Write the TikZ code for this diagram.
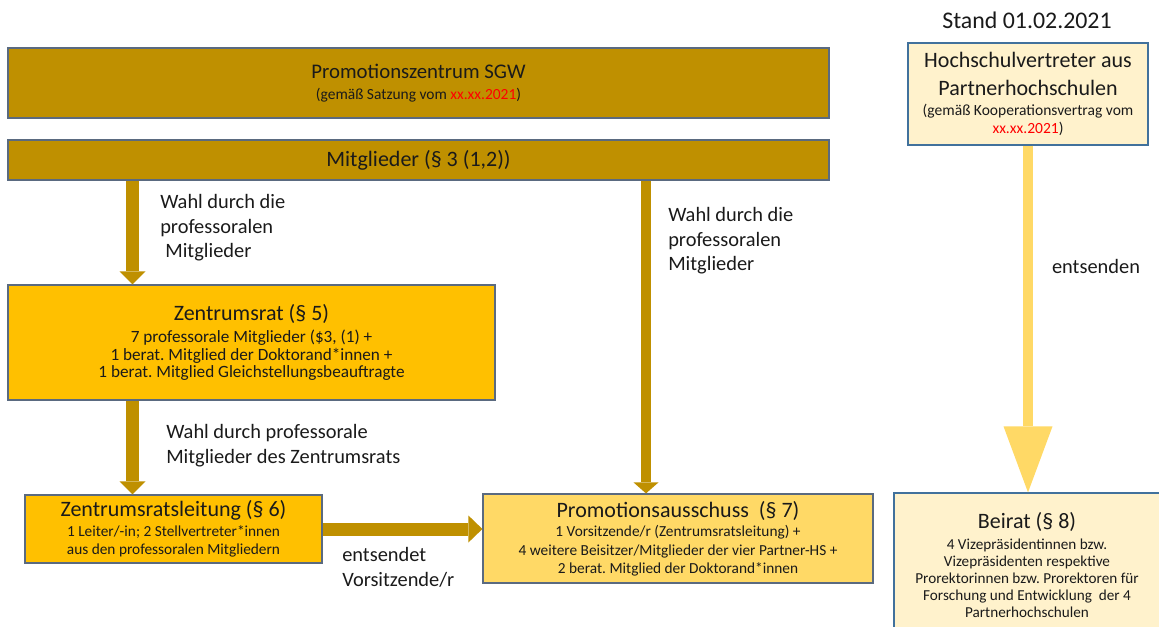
\documentclass[tikz,border=0pt]{standalone}
\usepackage{fontspec}
\setmainfont{Carlito}
\usetikzlibrary{arrows.meta,positioning,calc}
\definecolor{GoldDark}{HTML}{BF9000}
\definecolor{GoldMid}{HTML}{FFC000}
\definecolor{GoldLight}{HTML}{FFD966}
\definecolor{GoldPale}{HTML}{FFF2CC}
\definecolor{BoxLine}{HTML}{5A6A80}
\definecolor{BoxBlue}{HTML}{41719C}
\definecolor{Ink}{HTML}{1A1A1A}
\newcommand{\headfnt}{\fontsize{16.5}{20.5}\selectfont}
\newcommand{\lblfnt}{\fontsize{15.3}{18.4}\selectfont}
\newcommand{\redtxt}[1]{\textcolor{red}{#1}}
\frenchspacing

\begin{document}
\begin{tikzpicture}[
  x=0.75pt, y=-0.75pt,
  every node/.style={text=Ink, inner sep=0pt},
  bx/.style={rectangle, draw=BoxLine, line width=0.9pt, align=center},
  bxDark/.style={bx, fill=GoldDark},
  bxMid/.style={bx, fill=GoldMid},
  bxLight/.style={bx, fill=GoldLight},
  bxPale/.style={bx, draw=BoxBlue, fill=GoldPale},
  lbl/.style={anchor=north west, align=left, font=\lblfnt},
  arrA/.style={draw=GoldDark, line width=9.75pt,
               -{Triangle[length=9.75pt, width=19.5pt, line width=0pt]}},
  arrB/.style={draw=GoldDark, line width=7.5pt,
               -{Triangle[length=8.25pt, width=18.75pt, line width=0pt]}},
  arrH/.style={draw=GoldDark, line width=9.75pt,
               -{Triangle[length=10.5pt, width=20.25pt, line width=0pt]}},
  arrP/.style={draw=GoldLight, line width=7.5pt,
               -{Triangle[length=49.5pt, width=36.75pt, line width=0pt]}},
]
\clip (0,0) rectangle (1159,627);
\node[bxDark, minimum width=615.75pt, minimum height=52.5pt,
      font=\fontsize{11.6}{15.9}\selectfont] (pz) at (418.5, 83)
  {\fontsize{15.6}{19}\selectfont Promotionszentrum SGW\\
   (gemäß Satzung vom \redtxt{xx.xx.2021})};
\node[bxDark, minimum width=615.75pt, minimum height=30pt] (mg) at (418.5,160)
  {\headfnt Mitglieder (§ 3 (1,2))};
\node[bxMid, minimum width=365.25pt, minimum height=86.25pt,
      font=\fontsize{12.9}{13.2}\selectfont] (zr) at (251.5,342.5)
  {\headfnt Zentrumsrat (§ 5)\\[3.6pt]
   7 professorale Mitglieder (\$3, (1) +\\
   1 berat. Mitglied der Doktorand*innen +\\
   1 berat. Mitglied Gleichstellungsbeauftragte};
\node[bxMid, minimum width=222.75pt, minimum height=51pt,
      font=\fontsize{11.5}{13.5}\selectfont] (zl) at (173.5,529)
  {\headfnt Zentrumsratsleitung (§ 6)\\[1.3pt]
   1 Leiter/-in; 2 Stellvertreter*innen\\
   aus den professoralen Mitgliedern};
\node[bxLight, minimum width=292.5pt, minimum height=66.75pt,
      font=\fontsize{11.5}{13.7}\selectfont] (pa) at (678,538.5)
  {\headfnt Promotionsausschuss\ \ (§ 7)\\[1.1pt]
   1 Vorsitzende/r (Zentrumsratsleitung) +\\
   4 weitere Beisitzer/Mitglieder der vier Partner-HS +\\
   2 berat. Mitglied der Doktorand*innen};
\node[bxPale, minimum width=180pt, minimum height=76.5pt,
      font=\fontsize{11.65}{13.5}\selectfont] (hv) at (1028,94)
  {\headfnt Hochschulvertreter aus\\[7.5pt]
   \headfnt Partnerhochschulen\\[1.4pt]
   (gemäß Kooperationsvertrag vom\\
   \redtxt{xx.xx.2021})};
\node[bxPale, minimum width=199.5pt, minimum height=108pt,
      font=\fontsize{11.4}{12.75}\selectfont] (br) at (1027,565)
  {\headfnt Beirat (§ 8)\\[2.95pt]
   4 Vizepräsidentinnen bzw.\\
   Vizepräsidenten respektive\\
   Prorektorinnen bzw. Prorektoren für\\
   Forschung und Entwicklung\ \ der 4\\
   Partnerhochschulen};
\node[font=\fontsize{17.9}{21}\selectfont] (stand) at (1027,20) {Stand 01.02.2021};
% connectors
\coordinate (lx) at (132.5,0);
\coordinate (rx) at (646,0);
\draw[arrA] (mg.south -| lx) -- (zr.north -| lx);
\draw[arrA] (zr.south -| lx) -- (zl.north -| lx);
\draw[arrB] (mg.south -| rx) -- (pa.north -| rx);
\draw[arrH] (zl.east) -- (pa.west |- zl.east);
\draw[arrP] (hv.south) -- (br.north -| hv.south);
% labels
\node[lbl] (wahlA) at (160,194.5)
  {Wahl durch die\\professoralen\\\hspace*{0.25em}Mitglieder};
\node[lbl] (wahlB) at (668,207.5)
  {Wahl durch die\\professoralen\\Mitglieder};
\node[lbl] (wahlC) at (166,424.5)
  {Wahl durch professorale\\Mitglieder des Zentrumsrats};
\node[lbl] (entsV) at (342,547.5) {entsendet\\Vorsitzende/r};
\node[font=\lblfnt] (entsP) at (1096,266) {entsenden};
\end{tikzpicture}
\end{document}
